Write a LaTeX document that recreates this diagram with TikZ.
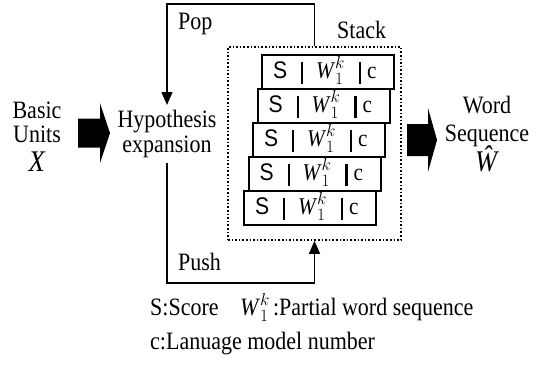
\documentclass[tikz,border=0pt]{standalone}
\usepackage{fontspec}
\setmainfont[FakeStretch=0.88]{Liberation Serif}
\setsansfont[FakeStretch=0.88]{Liberation Sans}
\usetikzlibrary{arrows.meta}
\tikzset{
  stackrow/.style={draw, line width=2pt, fill=white, minimum width=132pt,
    minimum height=34pt, anchor=west, inner sep=0pt, text height=17pt, text depth=5pt,
    font=\fontsize{24}{24}\selectfont},
  flow/.style={line width=1.4pt},
  tip/.style={-{Triangle[width=11pt,length=13pt]}},
  bigarrow/.style={fill=black},
  txt/.style={font=\fontsize{25}{25}\selectfont, align=center},
  legend/.style={font=\fontsize{25}{25}\selectfont, anchor=base west, inner sep=0pt},
}
\newcommand{\sbar}{\rule[-6pt]{2.2pt}{22pt}}
\newcommand{\srec}{\makebox[132pt][l]{\hspace{11pt}\rlap{\textsf{S}}\hspace{28pt}\rlap{\sbar}\hspace{15pt}\rlap{\textit{W}$_1^k$}\hspace{43pt}\rlap{\sbar}\hspace{8pt}c}}
\begin{document}
\begin{tikzpicture}[x=1pt,y=-1pt]
\useasboundingbox (0,0) rectangle (542,367);
% stack
\node[draw, dotted, line width=1.6pt, minimum width=173pt, minimum height=193pt] (stack) at (314.5,143.5) {};
\node[txt, anchor=base west, inner sep=0pt] (stacklabel) at (337,38) {Stack};
\node[stackrow] (rowa) at (261,72) {\srec};
\node[stackrow] (rowb) at (256.5,106) {\srec};
\node[stackrow] (rowc) at (252,140) {\srec};
\node[stackrow] (rowd) at (247.5,174) {\srec};
\node[stackrow] (rowe) at (243,208) {\srec};
% input, search, output
\node[txt, anchor=north, inner sep=0pt] (units) at (37,102) {Basic\\[-1pt]Units\\[4pt]{\fontsize{30}{30}\selectfont\textit{X}}};
\node[txt, anchor=north, inner sep=5pt] (hyp) at (167,105) {Hypothesis\\expansion};
\node[txt, anchor=north, inner sep=0pt] (words) at (487,96) {Word\\[3pt]Sequence\\[-2pt]{\fontsize{30}{30}\selectfont\textit{\^W}}};
\coordinate (inarrow) at (78,133);
\coordinate (outarrow) at (407,140);
\fill[bigarrow] (inarrow) -- ++(0,-14.5) -- ++(22,0) -- ++(0,-15.5) -- ++(10,30)
  -- ++(-10,30) -- ++(0,-15.5) -- ++(-22,0) -- cycle;
\fill[bigarrow] (outarrow) -- ++(0,-16) -- ++(21,0) -- ++(0,-16) -- ++(9,32)
  -- ++(-9,32) -- ++(0,-16) -- ++(-21,0) -- cycle;
% pop and push
\coordinate (poptop) at (167,4);
\coordinate (pushbot) at (167,283);
\draw[flow, tip] (stack.north) |- (poptop) -- (hyp.north);
\draw[flow, tip] (hyp.south) -- (pushbot) -| (stack.south);
\node[txt, anchor=base west, inner sep=0pt] (poplabel) at (178,29) {Pop};
\node[txt, anchor=base west, inner sep=0pt] (pushlabel) at (178,270) {Push};
% legend
\node[legend] (legscore) at (150,315) {S:Score};
\node[legend] (legword) at (240,315) {\textit{W}$_1^k$\hspace{3pt}:Partial word sequence};
\node[legend] (leglm) at (150,349) {c:Lanuage model number};
\end{tikzpicture}
\end{document}
